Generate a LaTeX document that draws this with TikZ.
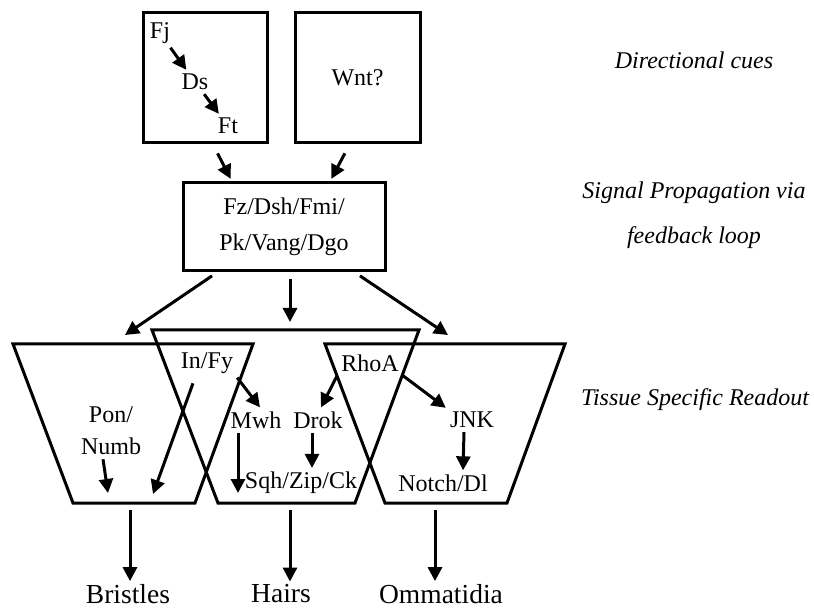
\documentclass[tikz,border=0pt]{standalone}
\usepackage{fontspec}
\setmainfont{Liberation Serif}
\usetikzlibrary{arrows.meta}

\tikzset{
	lbl/.style={inner sep=4pt, font=\fontsize{24}{28}\selectfont},
	cue/.style={inner sep=2pt, align=center, font=\fontsize{24}{45}\selectfont\itshape},
	fate/.style={inner sep=2pt, font=\fontsize{27.5}{32}\selectfont},
	frame/.style={draw, line width=3pt, inner sep=0pt},
	trap/.style={line width=3pt, line join=miter},
	arr/.style={-{Triangle[length=14pt,width=14pt]}, line width=3pt},
}

\begin{document}
\begin{tikzpicture}[x=1pt, y=-1pt]
	\useasboundingbox (0,0) rectangle (814,609);

	% directional cues
	\node [frame, minimum width=124pt, minimum height=130pt] (bx1) at (205,78) {};
	\node [frame, lbl, minimum width=125pt, minimum height=130pt] (bx2) at (357.5,78) {Wnt?};
	\node [lbl] (fj) at (160,33) {Fj};
	\node [lbl] (ds) at (195,82) {Ds};
	\node [lbl] (ft) at (228,126) {Ft};
	\draw [arr] (fj) -- (ds);
	\draw [arr] (ds) -- (ft);

	% propagation
	\node [frame, lbl, align=center, minimum width=202pt, minimum height=88pt,
		font=\fontsize{24}{36}\selectfont] (bx3) at (284,227) {Fz/Dsh/Fmi/\\Pk/Vang/Dgo};
	\draw [arr, shorten <=10pt, shorten >=3pt] ([xshift=8pt]bx1.south) -- ([xshift=-52pt]bx3.north);
	\draw [arr, shorten <=10pt, shorten >=3pt] ([xshift=-8pt]bx2.south) -- ([xshift=46pt]bx3.north);

	% tissue readout
	\draw [trap] (13,344) -- (253,344) -- (195,503) -- (73,503) -- cycle;
	\draw [trap] (152,330) -- (419,330) -- (355,503) -- (218,503) -- cycle;
	\draw [trap] (325,344) -- (565,344) -- (507,503) -- (385,503) -- cycle;

	\coordinate (tl) at (125,335);
	\coordinate (tm) at (290,322);
	\coordinate (tr) at (448,335);
	\draw [arr, shorten <=6pt] ([xshift=-67pt]bx3.south) -- (tl);
	\draw [arr, shorten <=7pt] ([xshift=6pt]bx3.south) -- (tm);
	\draw [arr, shorten <=6pt] ([xshift=71pt]bx3.south) -- (tr);

	\node [lbl, align=center, font=\fontsize{24}{32}\selectfont] (pn) at (111,431) {Pon/\\Numb};
	\node [lbl] (infy) at (207,363) {In/Fy};
	\node [lbl] (mwh) at (256,420) {Mwh};
	\node [lbl] (drok) at (318,420) {Drok};
	\node [lbl] (rhoa) at (370,363) {RhoA};
	\node [lbl] (jnk) at (472,420) {JNK};
	\node [lbl] (sqh) at (301,483) {Sqh/Zip/Ck};
	\node [lbl] (notch) at (443,483) {Notch/Dl};

	\coordinate (pe) at (108,493);
	\coordinate (ie) at (153,494);
	\coordinate (me) at (238,493);
	\draw [arr] ([xshift=-8pt]pn.south) -- (pe);
	\draw [arr, shorten <=6pt] ([xshift=-12pt]infy.south) -- (ie);
	\draw [arr] (infy.south east) -- ([xshift=4pt]mwh.north);
	\draw [arr] ([xshift=-18pt]mwh.south) -- (me);
	\draw [arr] ([xshift=-6pt]drok.south) -- ([xshift=-6pt]drok.south |- sqh.north);
	\draw [arr] (rhoa.south west) -- ([xshift=3pt]drok.north);
	\draw [arr] (rhoa.south east) -- (jnk.north west);
	\draw [arr] ([xshift=-8pt]jnk.south) -- ([xshift=20pt]notch.north);

	% fates
	\node [fate] (bristles) at (128,594) {Bristles};
	\node [fate] (hairs) at (281,594) {Hairs};
	\node [fate] (omma) at (441,594) {Ommatidia};
	\coordinate (b1) at (130,503);
	\coordinate (b2) at (290,503);
	\coordinate (b3) at (435,503);
	\draw [arr, shorten <=7pt, shorten >=1pt] (b1) -- (b1 |- bristles.north);
	\draw [arr, shorten <=7pt, shorten >=1pt] (b2) -- (b2 |- hairs.north);
	\draw [arr, shorten <=7pt, shorten >=1pt] (b3) -- (b3 |- omma.north);

	% side labels
	\node [cue] (cue1) at (694,60) {Directional cues};
	\node [cue] (cue2) at (694,215) {Signal Propagation via\\feedback loop};
	\node [cue] (cue3) at (695,400) {Tissue Specific Readout};
\end{tikzpicture}
\end{document}
